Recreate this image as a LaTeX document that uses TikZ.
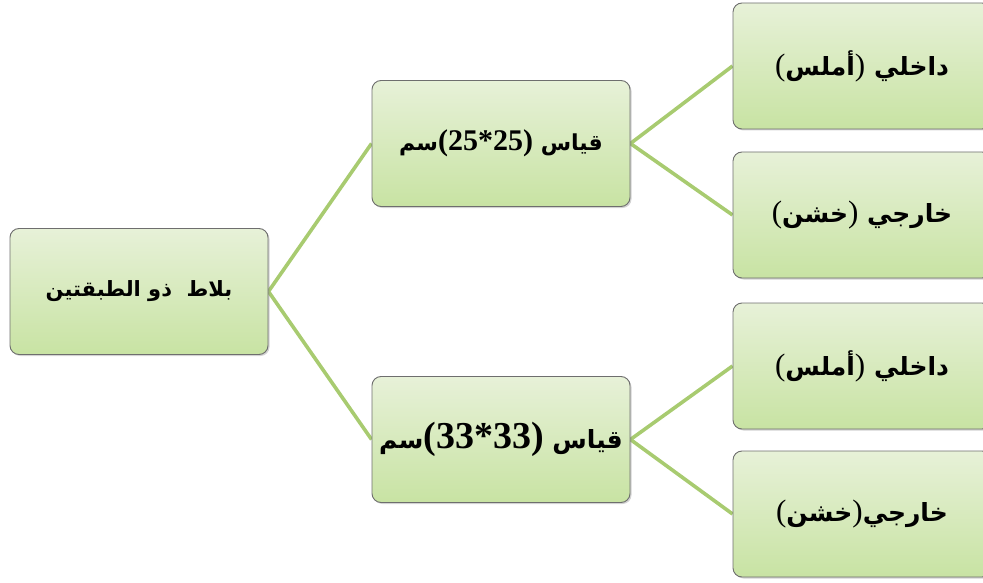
\documentclass[tikz,border=0pt]{standalone}
\usepackage{fontspec}
\TeXXeTstate=1
\newfontfamily\arabicfont[Script=Arabic]{DejaVu Sans}
\newfontfamily\numfont{Liberation Serif}
\usetikzlibrary{shadows}
\pgfdeclarelayer{bg}
\pgfsetlayers{bg,main}
\definecolor{boxtop}{RGB}{231,241,216}
\definecolor{boxbot}{RGB}{200,227,163}
\definecolor{linkc}{RGB}{168,203,112}
\definecolor{edgec}{RGB}{110,110,110}
\newcommand{\lp}{{\numfont\mdseries\fontsize{31}{34}\selectfont(}}
\newcommand{\rp}{{\numfont\mdseries\fontsize{31}{34}\selectfont)}}
\tikzset{
  box/.style={rounded corners=9pt, minimum width=258pt, minimum height=126pt,
    top color=boxtop, bottom color=boxbot, draw=edgec, line width=0.9pt,
    drop shadow={opacity=0.35, shadow xshift=1.5pt, shadow yshift=-1.5pt},
    inner sep=0pt, font=\arabicfont\bfseries},
  link/.style={draw=linkc, line width=3.6pt}
}
\begin{document}
\begin{tikzpicture}[x=1pt,y=-1pt]
\useasboundingbox (0,0) rectangle (983,583);
\clip (0,0) rectangle (983,583);
\node[box] (root) at (139,291.5) {\fontsize{21}{25}\selectfont\beginR بلاط\ \ ذو الطبقتين\endR};
\node[box] (m1) at (501,143.5) {\fontsize{22}{26}\selectfont\beginR سم\endR{\numfont\fontsize{30}{34}\selectfont(25*25)}\ \beginR قياس\endR};
\node[box] (m2) at (501,439.5) {\fontsize{25}{29}\selectfont\beginR سم\endR{\numfont\fontsize{38}{42}\selectfont(33*33)}\ \beginR قياس\endR};
\node[box] (r1) at (862,66) {\fontsize{25}{29}\selectfont\lp\beginR أملس\endR\rp\ \beginR داخلي\endR};
\node[box] (r2) at (862,215) {\fontsize{25}{29}\selectfont\lp\beginR خشن\endR\rp\ \beginR خارجي\endR};
\node[box] (r3) at (862,366) {\fontsize{25}{29}\selectfont\lp\beginR أملس\endR\rp\ \beginR داخلي\endR};
\node[box] (r4) at (862,514) {\fontsize{25}{29}\selectfont\lp\beginR خشن\endR\rp\beginR خارجي\endR};
\begin{pgfonlayer}{bg}
\draw[link] (root.east) -- (m1.west);
\draw[link] (root.east) -- (m2.west);
\draw[link] (m1.east) -- (r1.west);
\draw[link] (m1.east) -- (r2.west);
\draw[link] (m2.east) -- (r3.west);
\draw[link] (m2.east) -- (r4.west);
\end{pgfonlayer}
\end{tikzpicture}
\end{document}
